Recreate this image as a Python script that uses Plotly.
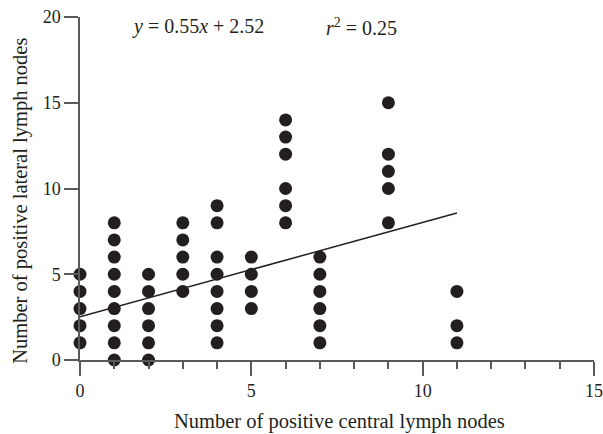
import plotly.graph_objects as go

# Data
central = [0]*5 + [1]*9 + [2]*6 + [3]*5 + [4]*8 + [5]*4 + [6]*6 + [7]*6 + [9]*5 + [11]*3
lateral = ([1, 2, 3, 4, 5] +
           [0, 1, 2, 3, 4, 5, 6, 7, 8] +
           [0, 1, 2, 3, 4, 5] +
           [4, 5, 6, 7, 8] +
           [1, 2, 3, 4, 5, 6, 8, 9] +
           [3, 4, 5, 6] +
           [8, 9, 10, 12, 13, 14] +
           [1, 2, 3, 4, 5, 6] +
           [8, 10, 11, 12, 15] +
           [1, 2, 4])

slope = 0.55
intercept = 2.52
fit_x = [0, 11]
fit_y = [slope * v + intercept for v in fit_x]

x_ticks = [0, 5, 10, 15]
y_ticks = [0, 5, 10, 15, 20]

FONT = "Liberation Serif"
AXC = "#5a5a5a"
TXT = "#231f20"

fig = go.Figure()
fig.add_trace(go.Scatter(x=fit_x, y=fit_y, mode="lines",
                         line=dict(color=TXT, width=1.5),
                         showlegend=False, hoverinfo="skip"))
fig.add_trace(go.Scatter(x=central, y=lateral, mode="markers",
                         marker=dict(color=TXT, size=13),
                         showlegend=False, cliponaxis=False))

fig.update_layout(
    width=603, height=434,
    margin=dict(l=80, r=9, t=17, b=74, autoexpand=False),
    plot_bgcolor="white", paper_bgcolor="white",
    font=dict(family=FONT, size=18, color=TXT),
    xaxis=dict(range=[0, 15], tickvals=x_ticks, showgrid=False, zeroline=False,
               automargin=False, ticklabeloverflow="allow",
               showline=True, linecolor=AXC, linewidth=1.5,
               ticks="outside", ticklen=14, tickwidth=1.5, tickcolor=AXC,
               tickfont=dict(size=18, family=FONT, color=TXT),
               minor=dict(dtick=1, ticks="outside", ticklen=7, tickwidth=1.5,
                          tickcolor=AXC, showgrid=False)),
    yaxis=dict(range=[0, 20], tickvals=y_ticks, showgrid=False, zeroline=False,
               automargin=False, ticklabeloverflow="allow",
               showline=True, linecolor=AXC, linewidth=1.5,
               ticks="outside", ticklen=14, tickwidth=1.5, tickcolor=AXC,
               tickfont=dict(size=18, family=FONT, color=TXT)),
    annotations=[
        dict(x=1.45, y=19.42, xref="x", yref="y", xanchor="left", yanchor="middle",
             text="<i>y</i> = 0.55<i>x</i> + 2.52", showarrow=False,
             font=dict(size=20, family=FONT, color=TXT)),
        dict(x=7.12, y=19.42, xref="x", yref="y", xanchor="left", yanchor="middle",
             text="<i>r</i><sup>2</sup> = 0.25", showarrow=False,
             font=dict(size=20, family=FONT, color=TXT)),
        dict(x=0.504, y=-0.18, xref="paper", yref="paper", xanchor="center",
             yanchor="middle", text="Number of positive central lymph nodes",
             showarrow=False, font=dict(size=20.5, family=FONT, color=TXT)),
        dict(x=-0.1148, y=0.464, xref="paper", yref="paper", xanchor="center",
             yanchor="middle", textangle=-90,
             text="Number of positive lateral lymph nodes",
             showarrow=False, font=dict(size=20.5, family=FONT, color=TXT)),
    ],
)

fig.write_html(
    "out.html",
    config={"displayModeBar": False},
    post_script="document.body.style.margin='0';document.body.style.overflow='hidden';",
)
